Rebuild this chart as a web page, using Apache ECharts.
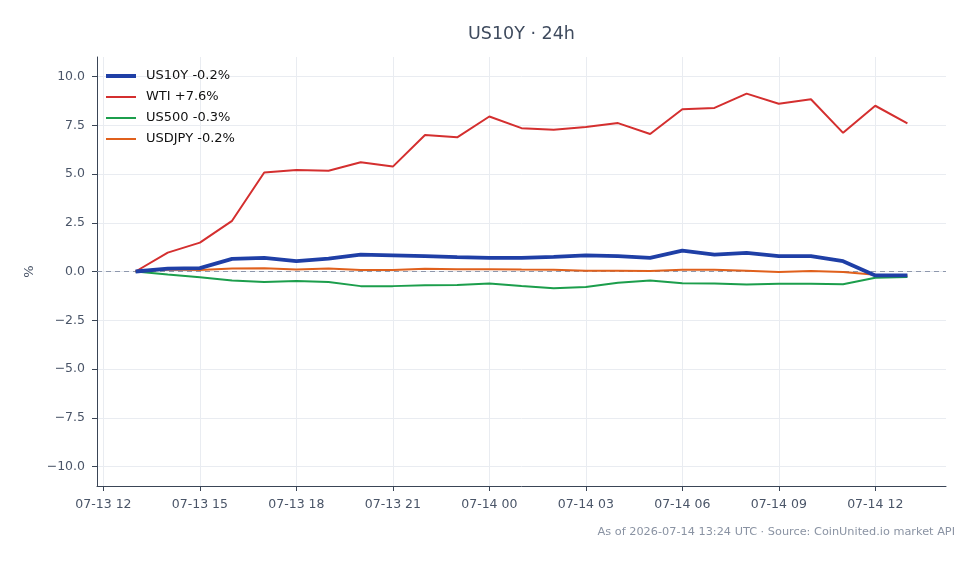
<!DOCTYPE html>
<html>
<head>
<meta charset="utf-8">
<script src="https://cdn.jsdelivr.net/npm/echarts@6/dist/echarts.min.js"></script>
<style>
  html, body { margin: 0; padding: 0; background: #fff; }
  #chart { width: 978px; height: 564px; }
</style>
</head>
<body>
<div id="chart"></div>
<script>
// hourly samples, hours counted from 07-13 00:00 UTC (13 .. 37 = 07-13 13:00 .. 07-14 13:00)
const hours = [13, 14, 15, 16, 17, 18, 19, 20, 21, 22, 23, 24, 25, 26, 27, 28, 29, 30, 31, 32, 33, 34, 35, 36, 37]

const us10y = [0, 0.15, 0.17, 0.65, 0.7, 0.53, 0.66, 0.87, 0.83, 0.79, 0.74, 0.7, 0.7, 0.75, 0.83, 0.79, 0.7, 1.07, 0.87, 0.95, 0.79, 0.79, 0.53, -0.2, -0.2]
const wti = [0, 0.97, 1.48, 2.6, 5.08, 5.2, 5.17, 5.6, 5.38, 7.0, 6.88, 7.95, 7.35, 7.27, 7.41, 7.61, 7.05, 8.32, 8.39, 9.12, 8.6, 8.83, 7.11, 8.5, 7.6]
const us500 = [0, -0.15, -0.29, -0.46, -0.54, -0.49, -0.54, -0.75, -0.75, -0.71, -0.69, -0.61, -0.74, -0.86, -0.8, -0.58, -0.46, -0.6, -0.62, -0.67, -0.63, -0.63, -0.65, -0.32, -0.28]
const usdjpy = [0, 0.1, 0.08, 0.15, 0.17, 0.1, 0.15, 0.08, 0.08, 0.14, 0.12, 0.12, 0.1, 0.09, 0.04, 0.04, 0.03, 0.09, 0.09, 0.04, -0.02, 0.03, -0.02, -0.17, -0.2]

const seriesNames = ['US10Y -0.2%', 'WTI +7.6%', 'US500 -0.3%', 'USDJPY -0.2%']
const seriesColors = ['#1f3fa6', '#d42f2f', '#1c9e4c', '#e0601c']

const yTicks = [-10, -7.5, -5, -2.5, 0, 2.5, 5, 7.5, 10]
const xTicks = [12, 15, 18, 21, 24, 27, 30, 33, 36]

const pad = n => String(n).padStart(2, '0')
const fmtHour = h => {
  const day = 13 + Math.floor(h / 24)
  return '07-' + pad(day) + ' ' + pad(h % 24)
}
const toPoints = arr => arr.map((v, i) => [hours[i], v])

// legend icons: plain line segments (the invisible moves keep the box size)
const thickIcon = 'path://M0,0M35,14M0,5H30V9H0Z'
const thinIcon = 'path://M0,0M35,14M0,6H30V8H0Z'

const chart = echarts.init(document.getElementById('chart'))
const font = 'DejaVu Sans'

const mkSeries = (data, idx, width) => ({
  name: seriesNames[idx],
  type: 'line',
  data: toPoints(data),
  symbol: 'none',
  z: 10 - idx,
  lineStyle: { color: seriesColors[idx], width: width },
  itemStyle: { color: seriesColors[idx] }
})

const firstSeries = mkSeries(us10y, 0, 3.8)
firstSeries.markLine = {
  silent: true,
  symbol: 'none',
  label: { show: false },
  lineStyle: { color: '#8e98ad', type: [5, 4], width: 1 },
  data: [{ yAxis: 0 }]
}

chart.setOption({
  animation: false,
  textStyle: { fontFamily: font },
  title: {
    text: 'US10Y · 24h',
    left: 463,
    top: 20,
    textStyle: { fontFamily: font, fontSize: 17.5, fontWeight: 'normal', color: '#3f4b5e' }
  },
  legend: {
    orient: 'vertical',
    left: 101,
    top: 64,
    itemWidth: 35,
    itemHeight: 14,
    itemGap: 7,
    textStyle: { fontFamily: font, fontSize: 13, color: '#111' },
    data: seriesNames.map((n, i) => ({
      name: n,
      icon: i === 0 ? thickIcon : thinIcon,
      itemStyle: { color: seriesColors[i], borderWidth: 0 }
    }))
  },
  grid: { left: 97, right: 32, top: 57, bottom: 78 },
  xAxis: {
    type: 'value',
    min: 11.8,
    max: 38.2,
    axisLine: { onZero: false, lineStyle: { color: '#3a4556', width: 1 } },
    axisTick: { show: true, length: 5, lineStyle: { color: '#3a4556' }, customValues: xTicks },
    axisLabel: {
      customValues: xTicks,
      formatter: v => fmtHour(v),
      color: '#4a5568',
      fontSize: 12.5,
      margin: 12,
      fontFamily: font
    },
    splitLine: { show: true, lineStyle: { color: '#e9ecf1', width: 1 } }
  },
  yAxis: {
    type: 'value',
    min: -11,
    max: 11,
    name: '%',
    nameLocation: 'middle',
    nameRotate: 90,
    nameGap: 60,
    nameTextStyle: { color: '#4a5568', fontSize: 13, fontFamily: font },
    axisLine: { show: true, onZero: false, lineStyle: { color: '#3a4556', width: 1 } },
    axisTick: { show: true, length: 5, lineStyle: { color: '#3a4556' }, customValues: yTicks },
    axisLabel: {
      customValues: yTicks,
      formatter: v => (v < 0 ? '\u2212' + Math.abs(v).toFixed(1) : v.toFixed(1)),
      color: '#4a5568',
      fontSize: 12.5,
      margin: 12,
      fontFamily: font
    },
    splitLine: { show: true, lineStyle: { color: '#e9ecf1', width: 1 } }
  },
  graphic: [{
    type: 'text',
    right: 23,
    top: 527,
    style: {
      text: 'As of 2026-07-14 13:24 UTC · Source: CoinUnited.io market API',
      fill: '#8a93a3',
      font: '11.3px "DejaVu Sans"'
    }
  }],
  series: [
    firstSeries,
    mkSeries(wti, 1, 2),
    mkSeries(us500, 2, 2),
    mkSeries(usdjpy, 3, 2)
  ]
})
</script>
</body>
</html>
